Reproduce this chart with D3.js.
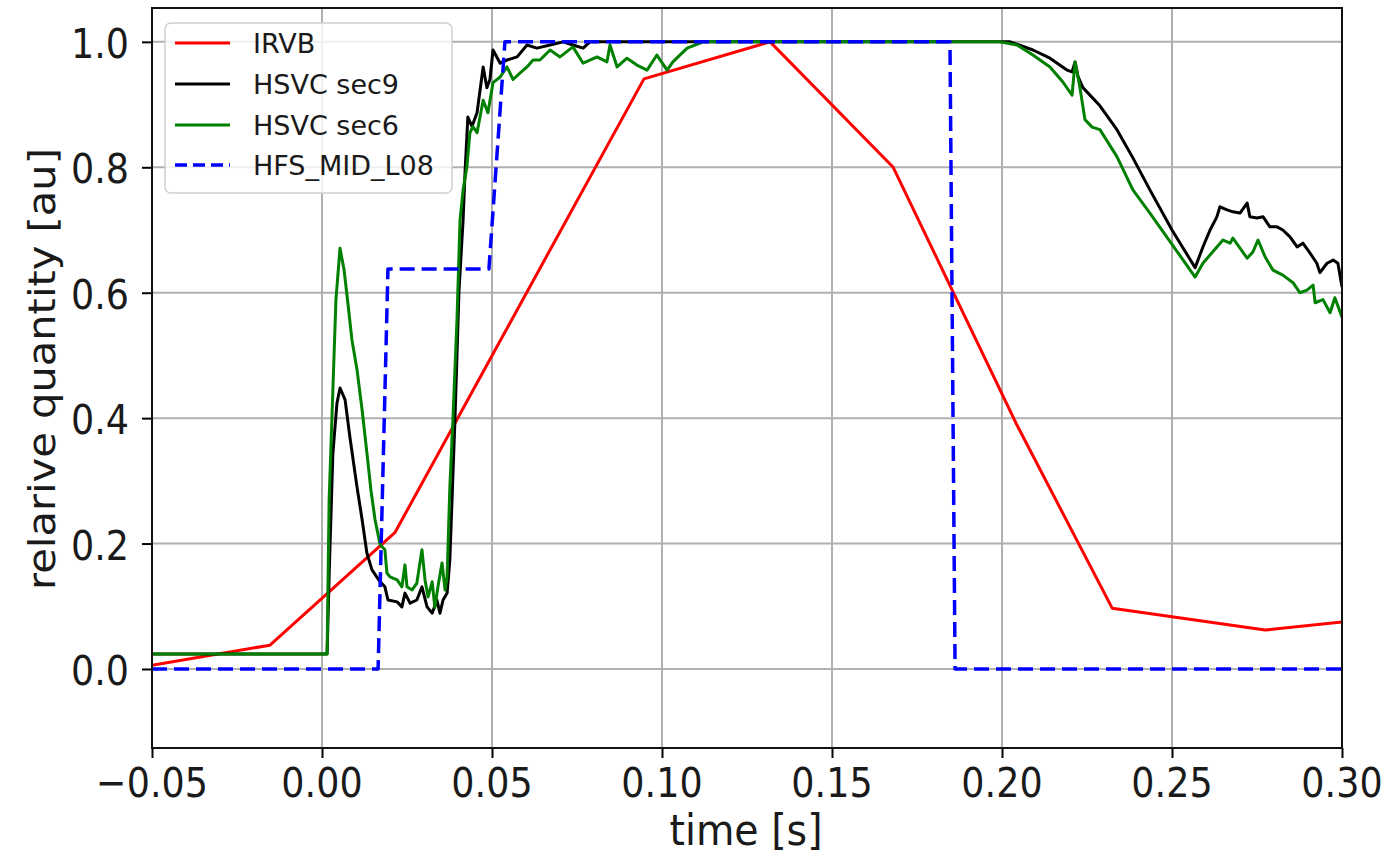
<!DOCTYPE html>
<html><head><meta charset="utf-8">
<script src="https://cdn.jsdelivr.net/npm/d3@7"></script>
<style>body{margin:0;background:#fff}svg{display:block}text{font-family:"DejaVu Sans",sans-serif;fill:#1a1a1a}</style>
</head><body>
<svg id="c" width="1392" height="855"></svg>
<script>
const xTicks = [-0.05, 0.00, 0.05, 0.10, 0.15, 0.20, 0.25, 0.30];
const yTicks = [0.0, 0.2, 0.4, 0.6, 0.8, 1.0];
const seriesNames = ["IRVB", "HSVC sec9", "HSVC sec6", "HFS_MID_L08"];
const seriesColors = ["#ff0000", "#000000", "#008000", "#0000ff"];

const irvb = [[-0.05,0.006],[-0.0153,0.038],[0.0215,0.218],[0.0947,0.941],[0.1318,1.0],[0.168,0.80],[0.2044,0.389],[0.2324,0.097],[0.2774,0.062],[0.30,0.075]];

const hfs = [[-0.05,0],[0.0165,0],[0.0194,0.638],[0.0491,0.638],[0.0538,1.0],[0.1847,1.0],[0.1862,0],[0.30,0]];

const sec9 = [[-0.05,0.024],[0.0015,0.024],[0.0021,0.15],[0.0032,0.344],[0.0044,0.424],[0.0053,0.448],[0.0068,0.429],[0.0082,0.37],[0.0103,0.29],[0.0118,0.238],[0.0132,0.185],[0.0147,0.158],[0.0171,0.139],[0.0185,0.131],[0.0194,0.11],[0.0221,0.107],[0.0235,0.099],[0.0244,0.121],[0.0259,0.105],[0.0279,0.11],[0.0294,0.131],[0.0309,0.099],[0.0324,0.089],[0.0338,0.11],[0.0347,0.089],[0.0356,0.11],[0.0368,0.121],[0.0376,0.174],[0.0391,0.397],[0.0403,0.604],[0.0415,0.716],[0.0421,0.796],[0.0429,0.88],[0.0441,0.865],[0.0456,0.887],[0.0474,0.96],[0.0485,0.927],[0.0494,0.94],[0.0503,0.987],[0.0524,0.966],[0.0544,0.971],[0.0574,0.976],[0.0603,0.995],[0.0632,0.99],[0.0671,0.995],[0.0709,1.0],[0.0738,0.995],[0.0768,0.99],[0.0788,1.0],[0.2024,1.0],[0.2091,0.987],[0.2141,0.974],[0.2191,0.955],[0.2206,0.952],[0.2215,0.968],[0.2224,0.944],[0.2238,0.927],[0.2288,0.898],[0.2338,0.860],[0.2385,0.815],[0.2435,0.764],[0.2500,0.70],[0.2568,0.64],[0.2591,0.673],[0.2612,0.70],[0.2632,0.721],[0.2641,0.737],[0.2662,0.732],[0.2679,0.729],[0.2700,0.727],[0.2721,0.743],[0.2729,0.721],[0.2750,0.719],[0.2768,0.721],[0.2788,0.705],[0.2809,0.705],[0.2826,0.70],[0.2847,0.689],[0.2868,0.673],[0.2885,0.679],[0.2906,0.663],[0.2926,0.647],[0.2935,0.632],[0.2956,0.647],[0.2974,0.652],[0.2988,0.647],[0.3000,0.609]];

const sec6 = [[-0.05,0.024],[0.0015,0.024],[0.0021,0.27],[0.0029,0.397],[0.0041,0.589],[0.0053,0.671],[0.0065,0.636],[0.0076,0.584],[0.0088,0.525],[0.0103,0.477],[0.0118,0.413],[0.0132,0.345],[0.0144,0.285],[0.0156,0.238],[0.0171,0.198],[0.0185,0.19],[0.0191,0.153],[0.0200,0.147],[0.0221,0.142],[0.0235,0.131],[0.0244,0.166],[0.0250,0.131],[0.0265,0.126],[0.0279,0.137],[0.0294,0.19],[0.0303,0.142],[0.0312,0.115],[0.0324,0.139],[0.0332,0.098],[0.0341,0.131],[0.0353,0.169],[0.0362,0.126],[0.0368,0.147],[0.0376,0.29],[0.0385,0.397],[0.0397,0.557],[0.0406,0.716],[0.0415,0.764],[0.0426,0.80],[0.0435,0.855],[0.0444,0.865],[0.0456,0.855],[0.0474,0.907],[0.0488,0.887],[0.0503,0.935],[0.0524,0.944],[0.0544,0.96],[0.0562,0.94],[0.0582,0.95],[0.0603,0.96],[0.0621,0.971],[0.0641,0.971],[0.0671,0.987],[0.0700,0.976],[0.0738,0.992],[0.0768,0.966],[0.0809,0.976],[0.0838,0.968],[0.0847,0.995],[0.0868,0.96],[0.0897,0.974],[0.0926,0.963],[0.0956,0.955],[0.0985,0.979],[0.1015,0.955],[0.1032,0.968],[0.1074,0.99],[0.1121,1.0],[0.1994,1.0],[0.2044,0.995],[0.2091,0.979],[0.2141,0.96],[0.2179,0.936],[0.2206,0.915],[0.2215,0.968],[0.2229,0.928],[0.2244,0.876],[0.2265,0.864],[0.2288,0.86],[0.2338,0.817],[0.2385,0.764],[0.2435,0.727],[0.2568,0.625],[0.2591,0.647],[0.2632,0.673],[0.2650,0.684],[0.2671,0.679],[0.2679,0.687],[0.2700,0.671],[0.2721,0.655],[0.2738,0.665],[0.2753,0.684],[0.2774,0.657],[0.2797,0.636],[0.2826,0.628],[0.2856,0.616],[0.2876,0.60],[0.2897,0.604],[0.2915,0.612],[0.2921,0.584],[0.2944,0.589],[0.2965,0.568],[0.2979,0.592],[0.3000,0.561]];

const L = 152, R = 1342, T = 8, B = 748;
const SY = 1.14;
const svg = d3.select("#c");
const x = d3.scaleLinear().domain([-0.05, 0.30]).range([L, R]);
const y = d3.scaleLinear().domain([-0.126, 1.054]).range([B, T]);

// grid
const g = svg.append("g");
g.selectAll(".gx").data(xTicks).join("line")
  .attr("x1", d => x(d)).attr("x2", d => x(d)).attr("y1", T).attr("y2", B)
  .attr("stroke", "#b0b0b0").attr("stroke-width", 2);
g.selectAll(".gy").data(yTicks).join("line")
  .attr("y1", d => y(d)).attr("y2", d => y(d)).attr("x1", L).attr("x2", R)
  .attr("stroke", "#b0b0b0").attr("stroke-width", 2);

svg.append("clipPath").attr("id", "clip").append("rect")
  .attr("x", L).attr("y", T).attr("width", R - L).attr("height", B - T);

const line = d3.line().x(d => x(d[0])).y(d => y(d[1]));
const plots = svg.append("g").attr("clip-path", "url(#clip)");
const allSeries = [irvb, sec9, sec6, hfs];
allSeries.forEach((s, i) => {
  plots.append("path").datum(s).attr("d", line).attr("fill", "none")
    .attr("stroke", seriesColors[i])
    .attr("stroke-width", i === 3 ? 3.5 : 3)
    .attr("stroke-linejoin", "round")
    .attr("stroke-dasharray", i === 3 ? "15,7" : null);
});

// axes
const xAxis = d3.axisBottom(x).tickValues(xTicks).tickSize(10).tickPadding(8)
  .tickFormat(d => d3.format(".2f")(d).replace("-", "\u2212"));
const yAxis = d3.axisLeft(y).tickValues(yTicks).tickSize(10).tickPadding(12)
  .tickFormat(d3.format(".1f"));
const gx = svg.append("g").attr("transform", `translate(0,${B})`).call(xAxis);
const gy = svg.append("g").attr("transform", `translate(${L},0)`).call(yAxis);
[gx, gy].forEach(a => {
  a.select(".domain").remove();
  a.selectAll(".tick line").attr("stroke", "#000").attr("stroke-width", 2);
  a.selectAll(".tick text").remove();
});
// tick labels (stretched vertically like the reference)
svg.append("g").selectAll("text").data(xTicks).join("text")
  .attr("transform", d => `translate(${x(d)},797) scale(1,${SY})`)
  .attr("text-anchor", "middle").attr("font-size", 36.5)
  .text(d => d3.format(".2f")(d).replace("-", "\u2212"));
svg.append("g").selectAll("text").data(yTicks).join("text")
  .attr("transform", d => `translate(129,${y(d) + 16}) scale(1,${SY})`)
  .attr("text-anchor", "end").attr("font-size", 36.5)
  .text(d => d3.format(".1f")(d));

// frame
svg.append("rect").attr("x", L).attr("y", T).attr("width", R - L).attr("height", B - T)
  .attr("fill", "none").attr("stroke", "#111").attr("stroke-width", 2);

// axis labels
svg.append("text").attr("transform", `translate(746,845) scale(1,1.1)`)
  .attr("text-anchor", "middle").attr("font-size", 39.5).text("time [s]");
svg.append("text").attr("transform", `translate(55,369) scale(1,${SY}) rotate(-90)`)
  .attr("text-anchor", "middle").attr("font-size", 36.5).text("relarive quantity [au]");

// legend
const lg = svg.append("g");
lg.append("rect").attr("x", 165).attr("y", 23).attr("width", 287).attr("height", 170)
  .attr("rx", 6).attr("fill", "#fff").attr("fill-opacity", 0.8)
  .attr("stroke", "#d0d0d0").attr("stroke-width", 1.5);
const rowY = [43, 84, 125, 165];
seriesNames.forEach((n, i) => {
  lg.append("line").attr("x1", 175).attr("x2", 230).attr("y1", rowY[i]).attr("y2", rowY[i])
    .attr("stroke", seriesColors[i]).attr("stroke-width", i === 3 ? 3.5 : 3)
    .attr("stroke-dasharray", i === 3 ? "12,6" : null);
  lg.append("text").attr("x", 253).attr("y", rowY[i] + 10).attr("font-size", 27).text(n);
});
</script>
</body></html>
